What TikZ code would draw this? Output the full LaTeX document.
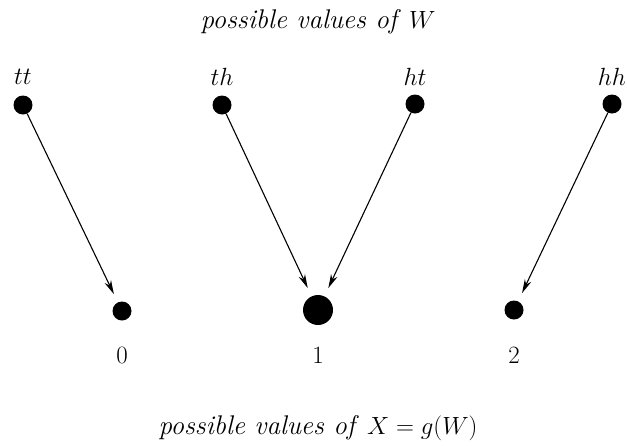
\documentclass[tikz,border=0pt]{standalone}
\usetikzlibrary{arrows.meta}
\begin{document}
\begin{tikzpicture}[x=1pt,y=-1pt,
  dot/.style={circle,fill=black,inner sep=0pt,minimum size=19pt},
  bigdot/.style={circle,fill=black,inner sep=0pt,minimum size=30pt},
  lbl/.style={font=\fontsize{27}{32}\selectfont,inner sep=0pt},
  arr/.style={line width=1.1pt,-{Stealth[length=14pt,width=7pt]},shorten >=9pt}]
\useasboundingbox (0,0) rectangle (627,445);
\node[lbl] (top) at (318,22) {\textit{possible values of} $W$};
\node[lbl] (bot) at (318,428) {\textit{possible values of} $X=g(W)$};
\node[dot] (tt) at (23,105) {};
\node[dot] (th) at (222,105) {};
\node[dot] (ht) at (415,104) {};
\node[dot] (hh) at (612,104) {};
\node[lbl] at (23,77) {$tt$};
\node[lbl] at (222,77) {$th$};
\node[lbl] at (415,77) {$ht$};
\node[lbl] at (612,77) {$hh$};
\node[dot] (z) at (122,311) {};
\node[bigdot] (o) at (318,310) {};
\node[dot] (w) at (514,310) {};
\node[lbl] at (122,355) {$0$};
\node[lbl] at (318,355) {$1$};
\node[lbl] at (514,355) {$2$};
\draw[arr] (tt) -- (z);
\draw[arr] (th) -- (o);
\draw[arr] (ht) -- (o);
\draw[arr] (hh) -- (w);
\end{tikzpicture}
\end{document}
